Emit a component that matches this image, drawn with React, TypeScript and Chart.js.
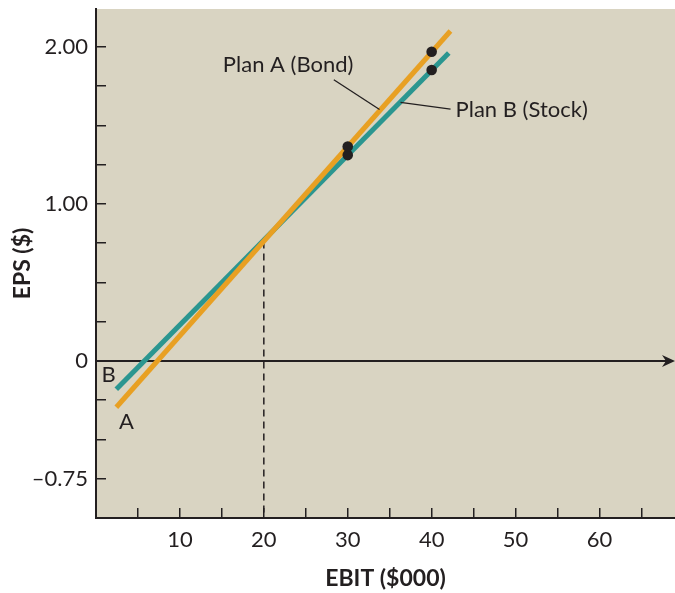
import React, { useEffect, useRef } from 'react';
import { Chart, registerables } from 'chart.js';

Chart.register(...registerables);

// ---- data ----
const planALine = [
  { x: 2.42, y: -0.295 },
  { x: 42.24, y: 2.1 },
];
const planBLine = [
  { x: 2.42, y: -0.18 },
  { x: 42.04, y: 1.96 },
];
const planAPoints = [
  { x: 30, y: 1.365 },
  { x: 40, y: 1.968 },
];
const planBPoints = [
  { x: 30, y: 1.31 },
  { x: 40, y: 1.852 },
];
const breakEvenLine = [
  { x: 20, y: 0.76 },
  { x: 20, y: -1 },
];
const leaderA = [
  { x: 28.34, y: 1.79 },
  { x: 33.79, y: 1.6 },
];
const leaderB = [
  { x: 36.29, y: 1.646 },
  { x: 42.25, y: 1.603 },
];
const xTickValues = [10, 20, 30, 40, 50, 60];
const yTickValues = [2, 1, 0, -0.75];
const yTickTexts = ['2.00', '1.00', '0', '\u20130.75'];

const labelTexts = ['Plan A (Bond)', 'Plan B (Stock)', 'B', 'A'];
const labelAnchors = [
  { x: 22.9, y: 1.883, align: 'center' },
  { x: 42.85, y: 1.6, align: 'left' },
  { x: 1.5, y: -0.09, align: 'center' },
  { x: 3.64, y: -0.387, align: 'center' },
];

// ---- styles ----
const INK = '#231f20';
const BG = '#d9d4c2';
const ORANGE = '#e8a023';
const TEAL = '#2b9690';
const FONT = 'Lato';

const decorPlugin = {
  id: 'decor',
  beforeDraw(chart: any) {
    const { ctx, chartArea } = chart;
    const { left, top, right, bottom } = chartArea;
    ctx.save();
    ctx.fillStyle = BG;
    ctx.fillRect(left, top, right - left, bottom - top);
    ctx.restore();
  },
  beforeDatasetsDraw(chart: any) {
    const { ctx, chartArea } = chart;
    const y0 = chart.scales.y.getPixelForValue(0);
    const { left, right } = chartArea;
    ctx.save();
    ctx.strokeStyle = INK;
    ctx.lineWidth = 2;
    ctx.beginPath();
    ctx.moveTo(left, y0);
    ctx.lineTo(right - 8, y0);
    ctx.stroke();
    ctx.fillStyle = INK;
    ctx.beginPath();
    ctx.moveTo(right, y0);
    ctx.lineTo(right - 13, y0 - 6);
    ctx.lineTo(right - 9, y0);
    ctx.lineTo(right - 13, y0 + 6);
    ctx.closePath();
    ctx.fill();
    ctx.restore();
  },
  afterDatasetsDraw(chart: any) {
    const { ctx } = chart;
    const xs = chart.scales.x;
    const ys = chart.scales.y;
    ctx.save();
    ctx.fillStyle = INK;
    ctx.font = `22px ${FONT}`;
    ctx.textBaseline = 'middle';
    labelTexts.forEach((t, i) => {
      const a = labelAnchors[i];
      ctx.textAlign = a.align;
      ctx.fillText(t, xs.getPixelForValue(a.x), ys.getPixelForValue(a.y));
    });
    ctx.restore();
  },
};

export default function App() {
  const ref = useRef<HTMLCanvasElement | null>(null);

  useEffect(() => {
    if (!ref.current) return;
    const near = (a: number, b: number) => Math.abs(a - b) < 1e-6;
    const chart = new Chart(ref.current, {
      type: 'scatter',
      data: {
        datasets: [
          {
            data: planAPoints,
            pointRadius: 5.3,
            pointBackgroundColor: INK,
            pointBorderWidth: 0,
            showLine: false,
            order: 0,
          },
          {
            data: planBPoints,
            pointRadius: 5.3,
            pointBackgroundColor: INK,
            pointBorderWidth: 0,
            showLine: false,
            order: 0,
          },
          {
            data: planALine,
            showLine: true,
            borderColor: ORANGE,
            borderWidth: 5,
            borderCapStyle: 'butt',
            pointRadius: 0,
            order: 1,
          },
          {
            data: planBLine,
            showLine: true,
            borderColor: TEAL,
            borderWidth: 5,
            borderCapStyle: 'butt',
            pointRadius: 0,
            order: 2,
          },
          {
            data: breakEvenLine,
            showLine: true,
            borderColor: INK,
            borderWidth: 1.5,
            borderDash: [7, 5],
            pointRadius: 0,
            order: 3,
          },
          {
            data: leaderA,
            showLine: true,
            borderColor: INK,
            borderWidth: 1.3,
            pointRadius: 0,
            order: 0,
          },
          {
            data: leaderB,
            showLine: true,
            borderColor: INK,
            borderWidth: 1.3,
            pointRadius: 0,
            order: 0,
          },
        ],
      },
      options: {
        responsive: false,
        devicePixelRatio: 1,
        animation: false,
        events: [],
        layout: { autoPadding: false, padding: { top: 9, left: 0, right: 0, bottom: 0 } },
        plugins: {
          legend: { display: false },
          tooltip: { enabled: false },
        },
        scales: {
          x: {
            type: 'linear',
            position: 'bottom',
            min: 0,
            max: 69,
            afterFit(scale: any) {
              scale.height = 75;
              scale.paddingLeft = 0;
              scale.paddingRight = 0;
            },
            ticks: {
              stepSize: 5,
              includeBounds: false,
              autoSkip: false,
              maxRotation: 0,
              padding: 19,
              color: INK,
              font: { family: FONT, size: 22 },
              callback: (v: any) => {
                const n = Number(v);
                return xTickValues.some((t) => near(t, n)) ? String(n) : '';
              },
            },
            grid: {
              drawOnChartArea: false,
              drawTicks: true,
              tickLength: -10,
              color: INK,
              tickColor: INK,
              lineWidth: 1.5,
            },
            border: { display: true, color: INK, width: 2 },
            title: {
              display: true,
              text: 'EBIT ($000)',
              color: INK,
              font: { family: FONT, size: 23, weight: 'bold' },
              padding: { top: 0, bottom: 1 },
            },
          },
          y: {
            type: 'linear',
            position: 'left',
            min: -1,
            max: 2.24,
            afterFit(scale: any) {
              scale.width = 96;
              scale.paddingTop = 0;
              scale.paddingBottom = 0;
            },
            ticks: {
              stepSize: 0.25,
              includeBounds: false,
              autoSkip: false,
              padding: 18,
              color: INK,
              font: { family: FONT, size: 22 },
              callback: (v: any) => {
                const n = Number(v);
                const i = yTickValues.findIndex((t) => near(t, n));
                return i >= 0 ? yTickTexts[i] : '';
              },
            },
            grid: {
              drawOnChartArea: false,
              drawTicks: true,
              tickLength: -10,
              color: INK,
              tickColor: INK,
              lineWidth: 1.5,
            },
            border: { display: true, color: INK, width: 2 },
            title: {
              display: true,
              text: 'EPS ($)',
              color: INK,
              font: { family: FONT, size: 23, weight: 'bold' },
              padding: { top: 9, bottom: 0 },
            },
          },
        },
      },
      plugins: [decorPlugin],
    } as any);
    return () => chart.destroy();
  }, []);

  return (
    <div style={{ position: 'absolute', left: 0, top: 0, width: 675, height: 593, background: '#ffffff' }}>
      <canvas ref={ref} width={675} height={593} style={{ display: 'block' }} />
    </div>
  );
}
